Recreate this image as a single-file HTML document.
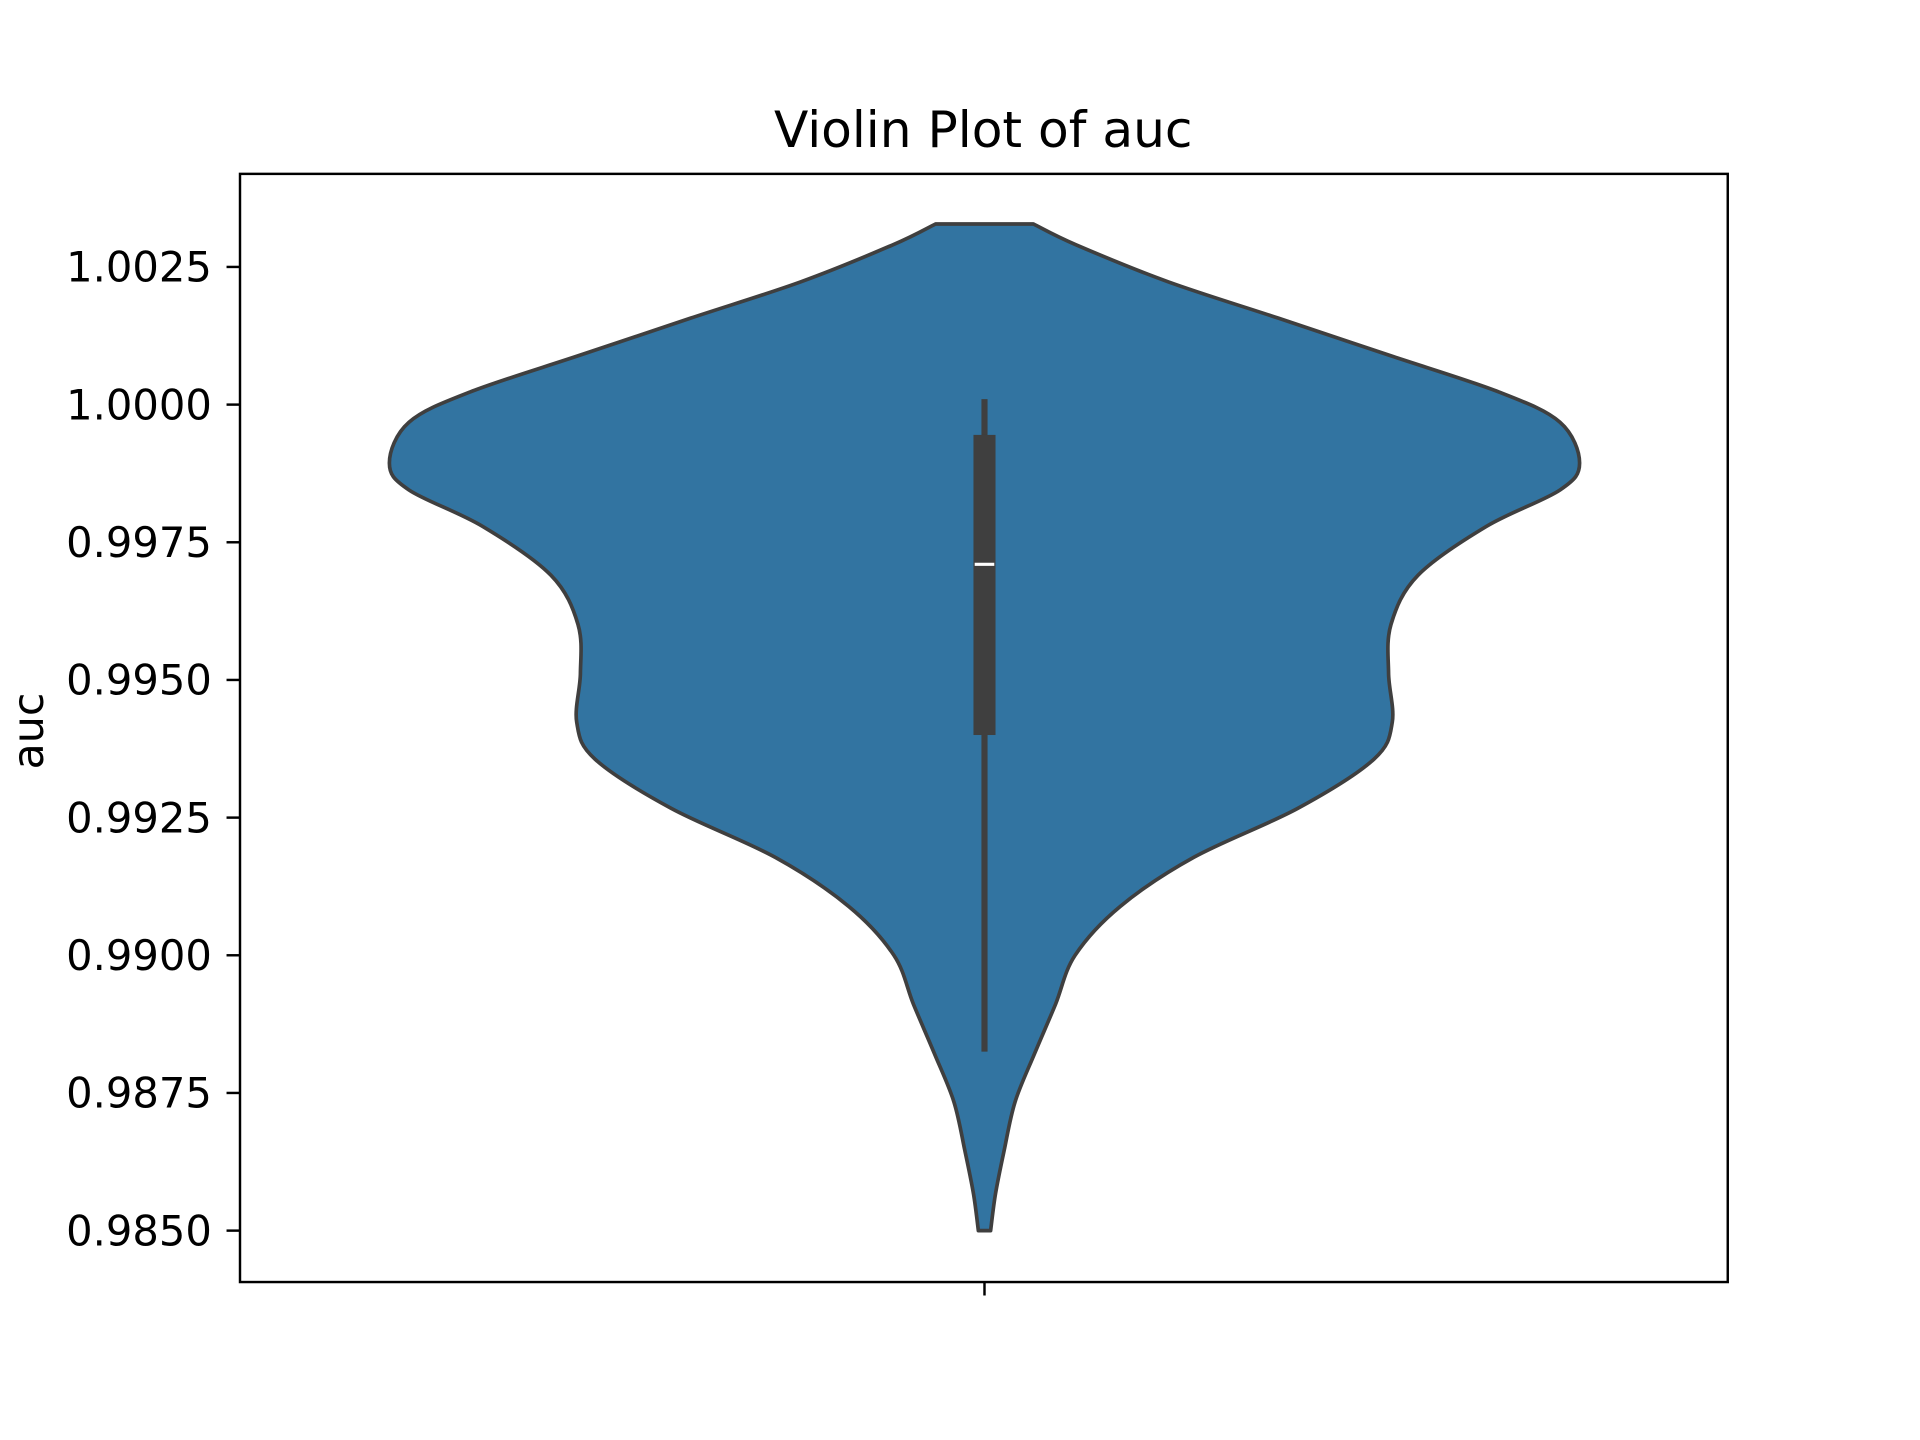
<!DOCTYPE html>
<html><head><meta charset="utf-8"><style>
html,body{margin:0;padding:0;background:#fff;}
svg{display:block;}
text{font-family:"DejaVu Sans","Liberation Sans",sans-serif;fill:#000;}
</style></head><body>
<svg id="chart" width="1920" height="1440" viewBox="0 0 1568 1176" preserveAspectRatio="none" xmlns="http://www.w3.org/2000/svg">
<text x="803" y="120" font-size="41" text-anchor="middle">Violin Plot of auc</text>
<text transform="translate(35,597) rotate(-90)" font-size="35" text-anchor="middle">auc</text>
<g id="yticks"></g>
<g id="violin"></g>
<rect x="196" y="142" width="1215" height="905" fill="none" stroke="#000" stroke-width="2"/>
<line x1="804" y1="1047" x2="804" y2="1058" stroke="#000" stroke-width="2"/>
</svg>
<script>
const tickValues = [0.985, 0.9875, 0.99, 0.9925, 0.995, 0.9975, 1.0, 1.0025];
const tickLabels = ["0.9850","0.9875","0.9900","0.9925","0.9950","0.9975","1.0000","1.0025"];
const densityY = [1.00328,1.00290,1.00223,1.00157,1.00090,1.00023,0.99968,0.99894,0.99845,0.99779,0.99690,0.99601,0.99512,0.99423,0.99356,0.99267,0.99178,0.99089,0.99000,0.98911,0.98822,0.98734,0.98645,0.98567,0.98500];
const densityW = [40,75,150,240,330,420,470,486,470,410,354,332,330,333,318,256,171,111,74,58,41,25,16,9,5];
const boxQ1 = 0.9940, boxMedian = 0.9971, boxQ3 = 0.99945, whiskerLow = 0.98825, whiskerHigh = 1.0001;

const NS = "http://www.w3.org/2000/svg";
const cx = 804;
function yScale(v){ return 218 + (1.0025 - v) / 0.0025 * 112.43; }
function wScale(d){ return d; }
function mk(tag, attrs, parent){ const e = document.createElementNS(NS, tag); for (const k in attrs) e.setAttribute(k, attrs[k]); parent.appendChild(e); return e; }

const yt = document.getElementById('yticks');
tickValues.forEach((v,i)=>{
  const y = yScale(v);
  const l = mk('line',{x1:185,x2:196,y1:y,y2:y,stroke:'#000','stroke-width':2},yt);
  
  
  const t = mk('text',{x:173,y:y+12,'font-size':34,'text-anchor':'end'},yt);
  t.textContent = tickLabels[i];
  
  
});

function smooth(pts){
  let d = `M${pts[0][0]},${pts[0][1]}`;
  for (let i=0;i<pts.length-1;i++){
    const p0=pts[Math.max(0,i-1)],p1=pts[i],p2=pts[i+1],p3=pts[Math.min(pts.length-1,i+2)];
    const c1=[p1[0]+(p2[0]-p0[0])/6,p1[1]+(p2[1]-p0[1])/6];
    const c2=[p2[0]-(p3[0]-p1[0])/6,p2[1]-(p3[1]-p1[1])/6];
    d+=` C${c1[0]},${c1[1]} ${c2[0]},${c2[1]} ${p2[0]},${p2[1]}`;
  }
  return d;
}
const right = densityY.map((v,i)=>[cx+wScale(densityW[i]), yScale(v)]);
const left = densityY.map((v,i)=>[cx-wScale(densityW[i]), yScale(v)]).reverse();
let d = smooth(right);
d += ` L${left[0][0]},${left[0][1]}`;
d += smooth(left).replace(/^M[^C]*/,' ');
d += ' Z';
const vg = document.getElementById('violin');
const body = mk('path',{d:d,fill:'#3274a1',stroke:'#3f3f3f','stroke-width':3,'stroke-linejoin':'round'},vg);


const wh = mk('line',{x1:cx,x2:cx,y1:yScale(whiskerHigh),y2:yScale(whiskerLow),stroke:'#3f3f3f','stroke-width':5},vg);


const bx = mk('rect',{x:cx-9,y:yScale(boxQ3),width:18,height:yScale(boxQ1)-yScale(boxQ3),fill:'#3f3f3f'},vg);


const md = mk('line',{x1:cx-8,x2:cx+8,y1:yScale(boxMedian),y2:yScale(boxMedian),stroke:'#fff','stroke-width':2.5},vg);


</script>
</body></html>
